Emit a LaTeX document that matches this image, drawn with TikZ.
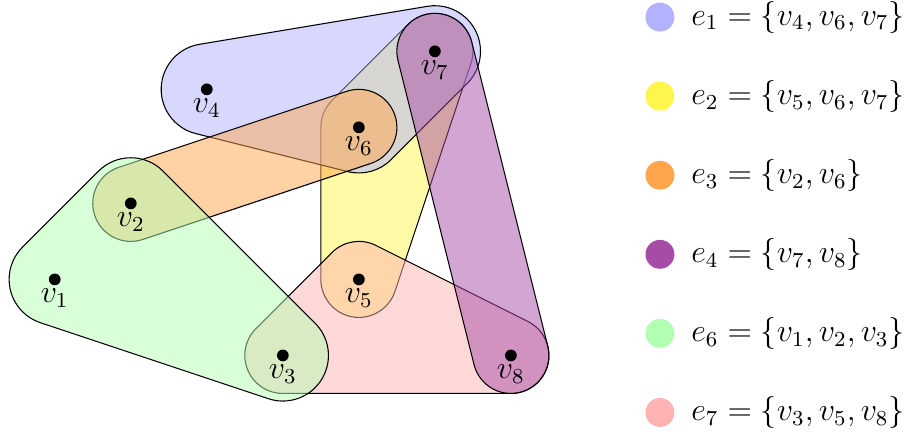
\documentclass[tikz,border=0pt]{standalone}
\usepackage{tikz}
\usepackage{amsmath}
\usetikzlibrary{positioning, calc}

\begin{document}
\begin{tikzpicture}[font=\large,
    hedge/.style={draw=black, fill opacity=0.5},
    h1/.style={hedge, fill=blue!30},
    h2/.style={hedge, fill=yellow!70},
    h3/.style={hedge, fill=orange!70},
    h4/.style={hedge, fill=violet!70},
    h6/.style={hedge, fill=green!30},
    h7/.style={hedge, fill=red!30},
    vtx/.style={circle, fill=black, inner sep=0pt, minimum size=4.4pt},
    ldot/.style={circle, inner sep=0pt, minimum size=0.38cm},
    ltext/.style={inner sep=0pt},
  ]
    \useasboundingbox (-0.72,-2.01) rectangle (11.17,3.675);

    % vertices
    \foreach \i/\x/\y in {1/0/0, 2/1/1, 3/3/-1, 4/2/2.5, 5/4/0, 6/4/2, 7/5/3, 8/6/-1}
      \coordinate (v\i) at (\x,\y);

    % hyperedges
    \draw[h2] ($(v5)+(-18.43:0.5)$) -- ($(v7)+(-18.43:0.5)$) arc[start angle=-18.43, end angle=135, radius=0.5]
      -- ($(v6)+(135:0.5)$) arc[start angle=135, end angle=180, radius=0.5]
      -- ($(v5)+(180:0.5)$) arc[start angle=180, end angle=341.57, radius=0.5] -- cycle;
    \draw[h1] ($(v4)+(-104.04:0.6)$) -- ($(v6)+(-104.04:0.6)$) arc[start angle=-104.04, end angle=-45, radius=0.6]
      -- ($(v7)+(-45:0.6)$) arc[start angle=-45, end angle=99.46, radius=0.6]
      -- ($(v4)+(99.46:0.6)$) arc[start angle=99.46, end angle=255.96, radius=0.6] -- cycle;
    \draw[h3] ($(v2)+(-71.57:0.5)$) -- ($(v6)+(-71.57:0.5)$) arc[start angle=-71.57, end angle=108.43, radius=0.5]
      -- ($(v2)+(108.43:0.5)$) arc[start angle=108.43, end angle=288.43, radius=0.5] -- cycle;
    \draw[h7] ($(v3)+(-90:0.5)$) -- ($(v8)+(-90:0.5)$) arc[start angle=-90, end angle=63.43, radius=0.5]
      -- ($(v5)+(63.43:0.5)$) arc[start angle=63.43, end angle=135, radius=0.5]
      -- ($(v3)+(135:0.5)$) arc[start angle=135, end angle=270, radius=0.5] -- cycle;
    \draw[h4] ($(v8)+(14.04:0.5)$) -- ($(v7)+(14.04:0.5)$) arc[start angle=14.04, end angle=194.04, radius=0.5]
      -- ($(v8)+(194.04:0.5)$) arc[start angle=194.04, end angle=374.04, radius=0.5] -- cycle;
    \draw[h6] ($(v1)+(-108.43:0.6)$) -- ($(v3)+(-108.43:0.6)$) arc[start angle=-108.43, end angle=45, radius=0.6]
      -- ($(v2)+(45:0.6)$) arc[start angle=45, end angle=135, radius=0.6]
      -- ($(v1)+(135:0.6)$) arc[start angle=135, end angle=251.57, radius=0.6] -- cycle;

    % dots and labels
    \foreach \i in {1,...,8} {
      \node[vtx] (d\i) at (v\i) {};
      \node[below] (l\i) at (v\i) {$v_\i$};
    }

    % legend
    \foreach \k/\c/\t [count=\n from 0] in {1/blue!30/{v_4, v_6, v_7}, 2/yellow!70/{v_5, v_6, v_7},
        3/orange!70/{v_2, v_6}, 4/violet!70/{v_7, v_8}, 6/green!30/{v_1, v_2, v_3}, 7/red!30/{v_3, v_5, v_8}} {
      \node[ldot, fill=\c] (k\k) at (7.96, {3.45-1.04*\n}) {};
      \node[ltext, right=0.21cm of k\k] (t\k) {$e_\k = \{\t\}$};
    }
  \end{tikzpicture}
\end{document}
